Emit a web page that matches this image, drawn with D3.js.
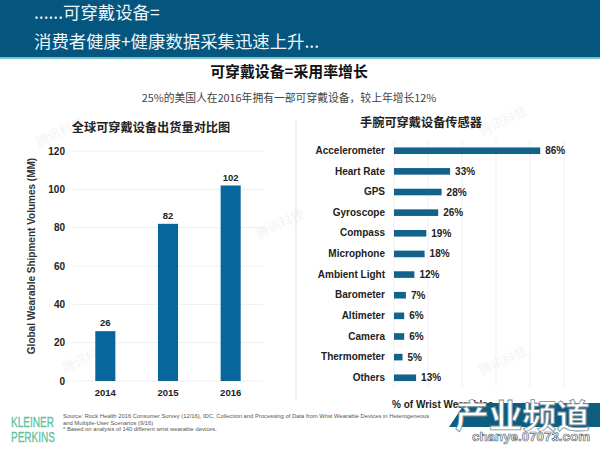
<!DOCTYPE html>
<html>
<head>
<meta charset='utf-8' />
<title>可穿戴设备</title>
<style>
  html, body { margin: 0; padding: 0; background: #fff; }
  svg { display: block; }
  text { font-family: 'Liberation Sans', 'Noto Sans CJK SC', sans-serif; }
  .cn { font-family: 'Noto Sans CJK SC', sans-serif; }
  .axis path, .axis line { display: none; }
</style>
</head>
<body>
<div id="wrapper"></div>
<script src='https://d3js.org/d3.v7.min.js' charset='utf-8'></script>
<script>
  const years = ['2014', '2015', '2016']
  const shipments = [26, 82, 102]
  const shipmentTicks = [0, 20, 40, 60, 80, 100, 120]

  const sensors = ['Accelerometer', 'Heart Rate', 'GPS', 'Gyroscope', 'Compass', 'Microphone',
    'Ambient Light', 'Barometer', 'Altimeter', 'Camera', 'Thermometer', 'Others']
  const sensorShares = [86, 33, 28, 26, 19, 18, 12, 7, 6, 6, 5, 13]
  const shareGrid = [0, 20, 40, 60, 80, 100]

  const sources = [
    'Source: Rock Health 2016 Consumer Survey (12/16), IDC, Collection and Processing of Data from Wrist Wearable Devices in Heterogeneous',
    'and Multiple-User Scenarios (9/16)',
    '* Based on analysis of 140 different wrist wearable devices.'
  ]

  const svg = d3.select('#wrapper').append('svg')
    .attr('width', 600)
    .attr('height', 450)

  svg.append('rect').attr('width', 600).attr('height', 450).attr('fill', '#fff')

  // header band
  svg.append('rect').attr('width', 600).attr('height', 57).attr('fill', '#04567f')
  svg.append('rect').attr('y', 57).attr('width', 600).attr('height', 2).attr('fill', '#7cc0c8')

  const addText = (x, y, str, size, fill, anchor, weight, cls) => svg.append('text')
    .attr('class', cls || null)
    .attr('x', x).attr('y', y)
    .attr('font-size', size)
    .attr('fill', fill)
    .attr('text-anchor', anchor || 'start')
    .attr('font-weight', weight || 'normal')
    .text(str)

  addText(34, 19, '......可穿戴设备=', 17.4, '#eef5f8', 'start', 'normal', 'cn')
  addText(34, 48, '消费者健康+健康数据采集迅速上升...', 17.4, '#eef5f8', 'start', 'normal', 'cn')
  addText(289, 77, '可穿戴设备=采用率增长', 14.9, '#111', 'middle', 'bold', 'cn')
  addText(289, 102, '25%的美国人在2016年拥有一部可穿戴设备，较上年增长12%', 10.8, '#444', 'middle', 'normal', 'cn')

  // faint watermarks
  const marks = [[62, 136], [88, 362], [282, 228], [505, 125], [505, 365]]
  svg.append('g').selectAll('text').data(marks).join('text')
    .attr('class', 'cn')
    .attr('transform', d => `translate(${d[0]},${d[1]}) rotate(-25)`)
    .attr('text-anchor', 'middle')
    .attr('font-size', 13).attr('fill', '#f3f4f6')
    .text('腾讯科技')

  addText(151, 132, '全球可穿戴设备出货量对比图', 12.2, '#222', 'middle', 'bold', 'cn')
  addText(421, 127, '手腕可穿戴设备传感器', 12.2, '#222', 'middle', 'bold', 'cn')

  // divider between the panels
  svg.append('line').attr('x1', 296).attr('x2', 296).attr('y1', 120).attr('y2', 400)
    .attr('stroke', '#e8eaec').attr('stroke-width', 1.5)

  // left chart
  const yLeft = d3.scaleLinear().domain([0, 120]).range([381, 151])
  const xLeft = d3.scaleBand().domain(years).range([74, 262]).paddingInner(0.68).paddingOuter(0.34)

  svg.append('g').selectAll('line').data(shipmentTicks).join('line')
    .attr('x1', 73).attr('x2', 263)
    .attr('y1', d => yLeft(d)).attr('y2', d => yLeft(d))
    .attr('stroke', '#eceff1').attr('stroke-width', 1)

  svg.append('g').attr('class', 'axis').attr('transform', 'translate(65,0)')
    .call(d3.axisLeft(yLeft).tickValues(shipmentTicks).tickSize(0))
    .call(g => g.selectAll('text').attr('font-size', 10).attr('font-weight', 'bold')
      .attr('fill', '#222').attr('x', 0))

  svg.append('g').attr('class', 'axis').attr('transform', 'translate(0,389.5)')
    .call(d3.axisBottom(xLeft).tickSize(0))
    .call(g => g.selectAll('text').attr('font-size', 9.5).attr('font-weight', 'bold')
      .attr('fill', '#222').attr('y', 0).attr('dy', '0.71em'))

  svg.append('g').selectAll('rect').data(shipments).join('rect')
    .attr('x', (d, i) => xLeft(years[i]))
    .attr('y', d => yLeft(d))
    .attr('width', xLeft.bandwidth())
    .attr('height', d => yLeft(0) - yLeft(d))
    .attr('fill', '#07669b')

  svg.append('g').selectAll('text').data(shipments).join('text')
    .attr('x', (d, i) => xLeft(years[i]) + xLeft.bandwidth() / 2)
    .attr('y', d => yLeft(d) - 5)
    .attr('text-anchor', 'middle')
    .attr('font-size', 9.5).attr('font-weight', 'bold').attr('fill', '#222')
    .text(d => d)

  svg.append('text')
    .attr('transform', 'translate(34.5,256) rotate(-90)')
    .attr('text-anchor', 'middle')
    .attr('font-size', 10).attr('font-weight', 'bold').attr('fill', '#333')
    .text('Global Wearable Shipment Volumes (MM)')

  // right chart
  const xRight = d3.scaleLinear().domain([0, 100]).range([394, 564])
  const yRight = d3.scaleBand().domain(sensors).range([133.4, 395.1]).padding(0.68)

  svg.append('g').selectAll('line').data(shareGrid).join('line')
    .attr('x1', d => xRight(d)).attr('x2', d => xRight(d))
    .attr('y1', 140).attr('y2', 387)
    .attr('stroke', '#eceff1').attr('stroke-width', 1)

  svg.append('g').attr('class', 'axis').attr('transform', 'translate(385,0)')
    .call(d3.axisLeft(yRight).tickSize(0))
    .call(g => g.selectAll('text').attr('font-size', 10).attr('font-weight', 'bold')
      .attr('fill', '#222').attr('x', 0))

  svg.append('g').selectAll('rect').data(sensorShares).join('rect')
    .attr('x', xRight(0))
    .attr('y', (d, i) => yRight(sensors[i]))
    .attr('width', d => xRight(d) - xRight(0))
    .attr('height', yRight.bandwidth())
    .attr('fill', '#13628c')

  svg.append('g').selectAll('text').data(sensorShares).join('text')
    .attr('x', d => xRight(d) + 5)
    .attr('y', (d, i) => yRight(sensors[i]) + yRight.bandwidth() / 2)
    .attr('dy', '0.35em')
    .attr('font-size', 10).attr('font-weight', 'bold').attr('fill', '#222')
    .text(d => d + '%')

  addText(392, 408, '% of Wrist Wearables', 10, '#222', 'start', 'bold')

  // footer
  const brand = (y, str, len) => addText(11, y, str, 14, '#5cc3a0')
    .attr('textLength', len).attr('lengthAdjust', 'spacingAndGlyphs')
    .attr('stroke', '#5cc3a0').attr('stroke-width', 0.3)
  brand(426.5, 'KLEINER', 43)
  brand(441.5, 'PERKINS', 44)

  svg.append('g').selectAll('text').data(sources).join('text')
    .attr('x', 63)
    .attr('y', (d, i) => 418 + i * 6.6)
    .attr('font-size', 5.85).attr('fill', '#555')
    .text(d => d)

  // channel logo, bottom right
  svg.append('path')
    .attr('d', 'M465,403 L600,403 L600,427 L449,427 Z')
    .attr('fill', '#0d5d80')
  svg.append('text').attr('class', 'cn')
    .attr('x', 455).attr('y', 428)
    .attr('font-size', 33).attr('font-weight', 'bold')
    .attr('fill', '#fff').attr('stroke', '#7b8d96').attr('stroke-width', 0.8)
    .attr('textLength', 135).attr('lengthAdjust', 'spacingAndGlyphs')
    .text('产业频道')
  svg.append('text')
    .attr('x', 472).attr('y', 441)
    .attr('font-size', 13.5).attr('font-weight', 'bold')
    .attr('fill', '#fff').attr('stroke', '#5b6f78').attr('stroke-width', 0.7)
    .attr('textLength', 118).attr('lengthAdjust', 'spacingAndGlyphs')
    .text('chanye.07073.com')
</script>
</body>
</html>
